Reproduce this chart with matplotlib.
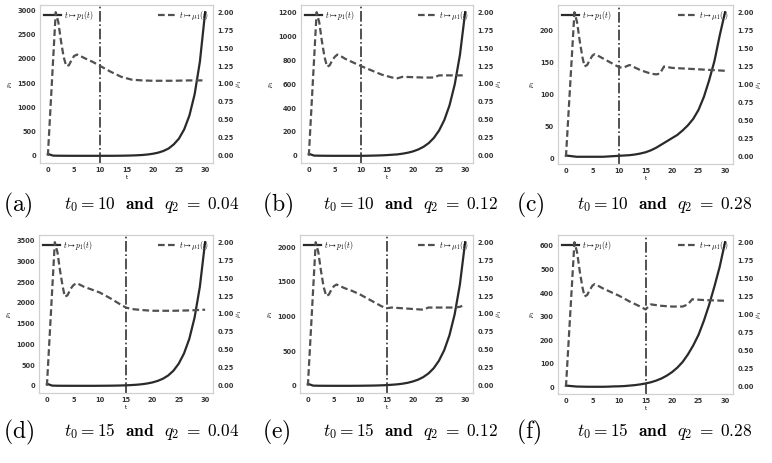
import matplotlib
matplotlib.use("Agg")
import matplotlib.pyplot as plt

plt.rcParams['mathtext.fontset'] = 'cm'
plt.rcParams['font.family'] = ['DejaVu Sans']

# time grid for the p1 curves
t_grid = list(range(31))

# p1(t) (left axis)
p1_a = [40, 5, 3, 2, 1.5, 1.2, 1, 1, 1, 1, 1, 1.2, 1.5, 2, 3.5, 5, 8, 12, 18, 28,
        43, 65, 99, 150, 235, 355, 545, 830, 1270, 1940, 2960]
p1_b = [18, 3, 2, 1.5, 1.2, 1, 1, 1, 1, 1, 1, 1.5, 2.5, 3.5, 5, 7, 10, 13, 19, 27,
        38, 54, 76, 107, 151, 213, 300, 423, 598, 845, 1200]
p1_c = [5, 4, 3, 3, 3, 3, 3, 3, 3.5, 4, 4.5, 5, 5.5, 6.5, 8, 10, 13, 17, 22, 27,
        32, 37, 44, 52, 62, 76, 96, 122, 152, 192, 228]
p1_d = [50, 6, 3, 2, 1.5, 1.2, 1, 1, 1, 1, 2, 3, 4, 6, 9, 13, 19, 27, 39, 57,
        82, 119, 172, 250, 365, 535, 780, 1130, 1640, 2380, 3460]
p1_e = [30, 4, 2, 1.5, 1.2, 1, 1, 1, 1, 1.5, 2, 3, 4, 5.5, 8, 11, 16, 22, 31, 44,
        63, 89, 126, 179, 254, 362, 513, 727, 1030, 1460, 2070]
p1_f = [8, 6, 4, 3.5, 3, 3, 3, 3, 3.5, 4.5, 5, 6, 8, 10, 13, 17, 22, 29, 38, 50,
        65, 84, 108, 140, 178, 223, 282, 350, 428, 512, 615]

# mu1(t) (right axis)
mu_t_a = [0, 1.5, 2.0, 2.5, 3.0, 3.5, 4.0, 4.5, 5.0, 5.6, 6.2, 7, 8.5, 10, 12, 14,
          16, 18, 20, 24, 27, 30]
mu_a = [0, 2.0, 1.86, 1.6, 1.38, 1.25, 1.26, 1.33, 1.39, 1.41, 1.39, 1.36, 1.31,
        1.25, 1.17, 1.10, 1.06, 1.05, 1.045, 1.045, 1.05, 1.05]
mu_t_b = [0, 1.5, 2.0, 2.5, 3.0, 3.5, 4.0, 4.5, 5.0, 5.5, 6.1, 7, 8.5, 10, 12, 14,
          16, 17, 18, 20, 22, 24, 25, 27, 30]
mu_b = [0, 2.0, 1.86, 1.6, 1.38, 1.24, 1.26, 1.33, 1.38, 1.41, 1.39, 1.35, 1.30,
        1.25, 1.19, 1.13, 1.09, 1.08, 1.10, 1.095, 1.09, 1.09, 1.12, 1.12, 1.12]
mu_t_c = [0, 1.6, 2.1, 2.6, 3.1, 3.5, 4.0, 4.5, 5.0, 5.4, 6.0, 7, 8.5, 10, 10.7,
          12, 14, 16, 17, 17.7, 18.5, 20, 25, 30]
mu_c = [0, 2.0, 1.86, 1.6, 1.38, 1.25, 1.27, 1.34, 1.40, 1.42, 1.40, 1.36, 1.30,
        1.24, 1.23, 1.27, 1.20, 1.15, 1.14, 1.15, 1.25, 1.23, 1.21, 1.19]
mu_t_d = [0, 1.5, 2.0, 2.5, 3.0, 3.4, 3.9, 4.5, 5.0, 5.6, 6.2, 7, 8.5, 10, 12, 14,
          15, 16, 18, 20, 24, 27, 30]
mu_d = [0, 2.0, 1.86, 1.6, 1.38, 1.24, 1.26, 1.35, 1.40, 1.43, 1.41, 1.38, 1.34,
        1.30, 1.22, 1.13, 1.09, 1.07, 1.055, 1.045, 1.045, 1.05, 1.06]
mu_t_e = [0, 1.5, 2.0, 2.5, 3.0, 3.5, 4.0, 4.5, 5.0, 5.5, 6.1, 7, 8.5, 10, 12, 14,
          15, 16, 18, 20, 22, 23, 25, 28, 29, 30]
mu_e = [0, 2.0, 1.86, 1.6, 1.38, 1.25, 1.27, 1.34, 1.39, 1.41, 1.39, 1.36, 1.32,
        1.27, 1.19, 1.11, 1.08, 1.09, 1.08, 1.07, 1.06, 1.09, 1.09, 1.09, 1.10, 1.13]
mu_t_f = [0, 1.6, 2.1, 2.6, 3.1, 3.5, 4.0, 4.5, 5.0, 5.4, 6.0, 7, 8.5, 10, 12, 14,
          15, 16, 18, 20, 22, 23, 23.8, 26, 30]
mu_f = [0, 2.0, 1.86, 1.6, 1.38, 1.25, 1.27, 1.34, 1.40, 1.42, 1.40, 1.36, 1.31,
        1.26, 1.18, 1.11, 1.07, 1.14, 1.12, 1.11, 1.11, 1.14, 1.21, 1.20, 1.19]

t0_vals = [10, 10, 10, 15, 15, 15]
q2_vals = ["0.04", "0.12", "0.28", "0.04", "0.12", "0.28"]
letters = ["a", "b", "c", "d", "e", "f"]

p1_all = [p1_a, p1_b, p1_c, p1_d, p1_e, p1_f]
mu_t_all = [mu_t_a, mu_t_b, mu_t_c, mu_t_d, mu_t_e, mu_t_f]
mu_all = [mu_a, mu_b, mu_c, mu_d, mu_e, mu_f]

W, H = 772, 463
fig = plt.figure(figsize=(W / 100, H / 100), dpi=100)

# axes boxes in pixels: left, top, right, bottom
boxes = [(40, 5, 213, 163), (301, 5, 473, 163), (558, 5, 733, 164),
         (39, 235, 213, 393), (300, 235, 473, 393), (558, 235, 733, 394)]
cap_x = [3, 262, 516]
cap_y = [205, 432]

line_c = '#2a2a2a'
dash_c = '#505050'

for i in range(6):
    l, tp, r, b = boxes[i]
    ax = fig.add_axes([l / W, 1 - b / H, (r - l) / W, (b - tp) / H])
    ax2 = ax.twinx()
    h1, = ax.plot(t_grid, p1_all[i], color=line_c, lw=1.6, label=r'$t\mapsto p_1(t)$')
    h2, = ax2.plot(mu_t_all[i], mu_all[i], color=dash_c, lw=1.6, ls=(0, (3, 1.5)),
                   label=r'$t\mapsto \mu_1(t)$')
    ax.axvline(t0_vals[i], color='#333333', lw=1.2, ls='-.')
    ax.set_xticks([0, 5, 10, 15, 20, 25, 30])
    ax2.set_ylim(-0.1, 2.1)
    ax2.set_yticks([0, 0.25, 0.5, 0.75, 1.0, 1.25, 1.5, 1.75, 2.0])
    for a in (ax, ax2):
        a.tick_params(labelsize=4.8, length=0, pad=3, colors='#333333')
        for lab in a.get_xticklabels() + a.get_yticklabels():
            lab.set_fontweight('bold')
        for s in a.spines.values():
            s.set_color('#d0d0d0')
            s.set_linewidth(0.8)
    ax.set_xlabel('t', fontsize=4, labelpad=1)
    ax.set_ylabel(r'$p_1$', fontsize=5, labelpad=2)
    ax2.set_ylabel(r'$\mu_1$', fontsize=5, labelpad=1)
    ax.legend(handles=[h1], loc='upper left', fontsize=5.5, frameon=False,
              borderaxespad=0.1, handlelength=2.2, handletextpad=0.5)
    ax2.legend(handles=[h2], loc='upper right', fontsize=5.5, frameon=False,
               borderaxespad=0.1, handlelength=2.2, handletextpad=0.5)

    row, col = i // 3, i % 3
    y = 1 - cap_y[row] / H
    fig.text(cap_x[col] / W, y, r'$\mathrm{(' + letters[i] + ')}$', fontsize=17,
             va='center', ha='left')
    fig.text((cap_x[col] + 61) / W, y,
             r'$t_0 = ' + str(t0_vals[i]) + r'$  $\mathbf{and}$  $q_2\;=\;' + q2_vals[i] + '$',
             fontsize=12.5, va='center', ha='left')

fig.savefig('out.png', dpi=100)
